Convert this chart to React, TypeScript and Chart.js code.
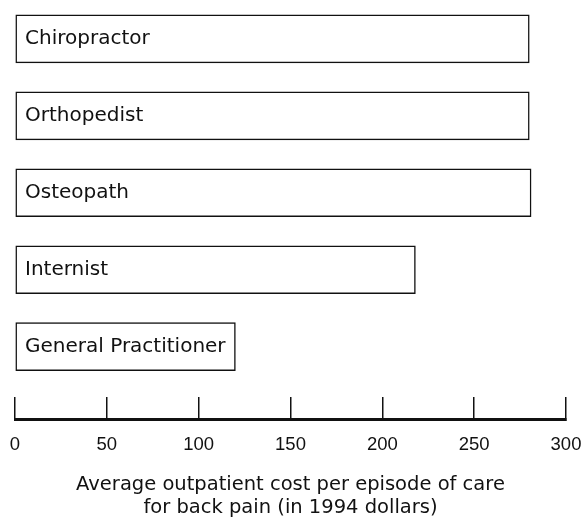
import React, { useEffect, useRef } from 'react';
import { Chart, registerables } from 'chart.js';

Chart.register(...registerables);

const categories = ['Chiropractor', 'Orthopedist', 'Osteopath', 'Internist', 'General Practitioner'];
const costs = [280, 280, 281, 218, 120];
const xTicks = [0, 50, 100, 150, 200, 250, 300];
const titleLines = ['Average outpatient cost per episode of care', 'for back pain (in 1994 dollars)'];

export default function App() {
  const ref = useRef<HTMLCanvasElement>(null);

  useEffect(() => {
    const chart = new Chart(ref.current!, {
      type: 'bar',
      data: {
        datasets: [
          {
            data: costs.map((v, i) => ({ x: v, y: i })),
            backgroundColor: '#ffffff',
            borderColor: '#111111',
            borderWidth: 1.5,
            borderSkipped: false,
            barThickness: 48,
          } as any,
        ],
      },
      options: {
        indexAxis: 'y',
        animation: false,
        responsive: true,
        maintainAspectRatio: false,
        layout: { padding: { left: 0, right: 21, top: 0, bottom: 0 } },
        plugins: { legend: { display: false }, tooltip: { enabled: false } },
        scales: {
          x: {
            type: 'linear',
            position: 'bottom',
            min: 0,
            max: 300,
            offset: false,
            afterBuildTicks: (s: any) => {
              s.ticks = xTicks.map((v) => ({ value: v }));
            },
            ticks: {
              padding: 37,
              color: '#111111',
              autoSkip: false,
              maxRotation: 0,
              font: { family: 'Liberation Sans', size: 18.5 },
            },
            grid: {
              display: true,
              offset: false,
              drawOnChartArea: false,
              drawTicks: true,
              tickLength: -22,
              color: '#111111',
              lineWidth: 1.5,
            },
            border: { display: true, color: '#111111', width: 3 },
            title: {
              display: true,
              text: titleLines,
              color: '#111111',
              font: { family: 'DejaVu Sans', size: 19.5, lineHeight: 23 / 19.5 },
              padding: { top: 0, bottom: -2 },
            },
            afterFit: (s: any) => {
              s.height = 98;
              s.paddingLeft = 0;
              s.paddingRight = 0;
            },
          },
          y: {
            type: 'linear',
            reverse: true,
            offset: false,
            min: -0.505,
            max: 4.94,
            afterBuildTicks: (s: any) => {
              s.ticks = categories.map((_, i) => ({ value: i }));
            },
            ticks: {
              z: 1,
              mirror: true,
              padding: 10,
              autoSkip: false,
              color: '#111111',
              font: { family: 'DejaVu Sans', size: 20 },
              callback: (v: any) => categories[Number(v)] ?? '',
            },
            grid: { display: false, offset: false },
            border: { display: false },
            afterFit: (s: any) => {
              s.width = 15;
              s.paddingTop = 0;
              s.paddingBottom = 0;
            },
          },
        },
      } as any,
    });
    return () => chart.destroy();
  }, []);

  return (
    <div style={{ position: 'absolute', left: 0, top: 0, width: 587, height: 517 }}>
      <canvas ref={ref} />
    </div>
  );
}
